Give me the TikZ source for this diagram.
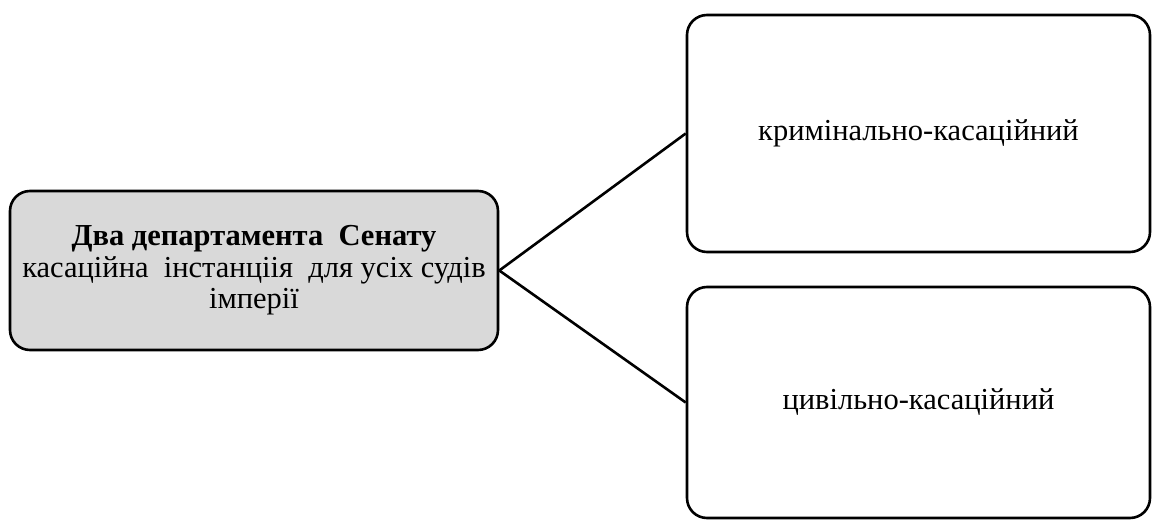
\documentclass[tikz,border=0pt]{standalone}
\usepackage{fontspec}
\setmainfont{Liberation Serif}
\definecolor{boxgrey}{RGB}{217,217,217}
\begin{document}
\begin{tikzpicture}
[x=1pt, y=1pt, font=\fontsize{30.5}{31.5}\selectfont]
\tikzstyle{box}=[draw, rounded corners=20pt, line width=2.6pt, align=center, inner sep=0pt]
\useasboundingbox (0,0) rectangle (1152,520);
\node[box, fill=boxgrey, minimum width=488, minimum height=159] (Senat) at (254,249.5)
  {\textbf{Два департамента\ \ Сенату}\\касаційна\ \ інстанціія\ \ для усіх судів\\імперії};
\node[box, minimum width=463, minimum height=237] (Krym) at (918.5,386.5) {кримінально-касаційний};
\node[box, minimum width=463, minimum height=231] (Tsyv) at (918.5,117.5) {цивільно-касаційний};

\draw[line width=2.6pt] (Senat.east)--(Krym.west);
\draw[line width=2.6pt] (Senat.east)--(Tsyv.west);
\end{tikzpicture}
\end{document}
